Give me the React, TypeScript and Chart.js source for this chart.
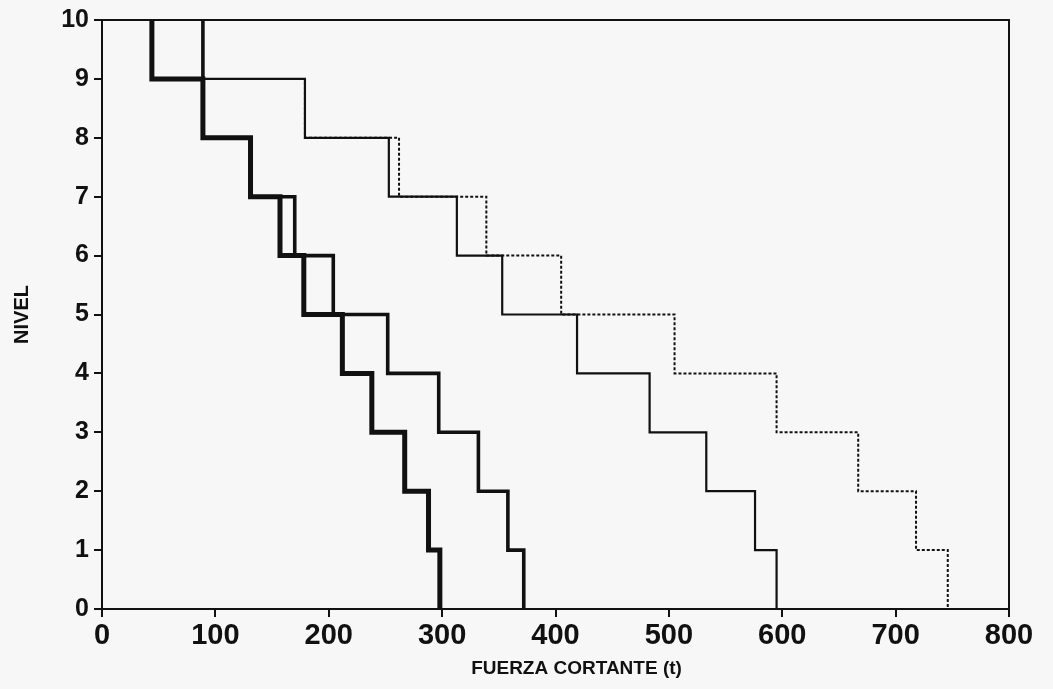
import React, { useEffect, useRef } from "react";
import { Chart, registerables } from "chart.js";

Chart.register(...registerables);

// Story levels (story i spans level i-1 to level i)
const levels = [1, 2, 3, 4, 5, 6, 7, 8, 9, 10];
const xTicks = [0, 100, 200, 300, 400, 500, 600, 700, 800];
const yTicks = [0, 1, 2, 3, 4, 5, 6, 7, 8, 9, 10];

// Shear force (t) per story, story 1 .. story 10
const seriesA = [298, 288, 267, 238, 212, 178, 157, 131, 89, 44];
const seriesB = [372, 358, 332, 297, 252, 204, 170, 131, 89, 89];
const seriesC = [595, 576, 533, 483, 419, 353, 313, 253, 179, 44];
const seriesD = [746, 718, 667, 595, 505, 405, 339, 262, 179, 44];

const xTitle = "FUERZA CORTANTE (t)";
const yTitle = "NIVEL";

function stepPoints(values: number[]) {
  const pts: { x: number; y: number }[] = [];
  for (let k = levels.length - 1; k >= 0; k--) {
    const lvl = levels[k];
    pts.push({ x: values[k], y: lvl });
    pts.push({ x: values[k], y: lvl - 1 });
  }
  return pts;
}

const INK = "#111111";
const FONT = "'Liberation Sans', Arial, sans-serif";

export default function App() {
  const ref = useRef<HTMLCanvasElement | null>(null);

  useEffect(() => {
    if (!ref.current) return;

    const bgPlugin = {
      id: "bg",
      beforeDraw(chart: any) {
        const { ctx, width, height } = chart;
        ctx.save();
        ctx.fillStyle = "#f7f7f7";
        ctx.fillRect(0, 0, width, height);
        ctx.restore();
      },
    };

    const framePlugin = {
      id: "frame",
      afterDraw(chart: any) {
        const { ctx, chartArea } = chart;
        const { left, right, top, bottom } = chartArea;
        ctx.save();
        ctx.strokeStyle = INK;
        ctx.lineWidth = 2;
        ctx.strokeRect(left, top, right - left, bottom - top);
        // x title
        ctx.fillStyle = INK;
        ctx.font = `bold 19px ${FONT}`;
        ctx.textAlign = "center";
        ctx.textBaseline = "middle";
        ctx.fillText(xTitle, (left + right) / 2 + 21, 669);
        ctx.restore();
      },
    };

    const mk = (label: string, vals: number[], width: number, dash: number[]) => ({
      label,
      data: stepPoints(vals),
      showLine: true,
      borderColor: INK,
      backgroundColor: INK,
      borderWidth: width,
      borderDash: dash,
      pointRadius: 0,
      pointHoverRadius: 0,
      borderJoinStyle: "miter" as const,
      borderCapStyle: "butt" as const,
      tension: 0,
      fill: false,
      clip: false as any,
    });

    const chart = new Chart(ref.current, {
      type: "scatter",
      data: {
        datasets: [
          mk("D", seriesD, 2, [3, 2]),
          mk("C", seriesC, 2.2, []),
          mk("B", seriesB, 3.6, []),
          mk("A", seriesA, 5, []),
        ],
      },
      plugins: [bgPlugin, framePlugin],
      options: {
        responsive: false,
        animation: false,
        events: [],
        layout: { padding: { left: 0, top: 17, right: 44, bottom: 0 } },
        plugins: {
          legend: { display: false },
          tooltip: { enabled: false },
          title: { display: false },
        },
        scales: {
          x: {
            type: "linear",
            min: xTicks[0],
            max: xTicks[xTicks.length - 1],
            afterBuildTicks: (scale: any) => {
              scale.ticks = xTicks.map((v) => ({ value: v }));
            },
            afterFit: (scale: any) => {
              scale.height = 80;
            },
            ticks: {
              color: INK,
              font: { family: FONT, size: 29, weight: "bold" },
              padding: 2,
              maxRotation: 0,
            },
            grid: {
              drawOnChartArea: false,
              drawTicks: true,
              tickLength: 8,
              color: INK,
              lineWidth: 2,
            },
            border: { display: true, color: INK, width: 2 },
          },
          y: {
            type: "linear",
            min: yTicks[0],
            max: yTicks[yTicks.length - 1],
            afterBuildTicks: (scale: any) => {
              scale.ticks = yTicks.map((v) => ({ value: v }));
            },
            afterFit: (scale: any) => {
              scale.width = 102;
            },
            ticks: {
              color: INK,
              font: { family: FONT, size: 25, weight: "bold" },
              padding: 5,
            },
            grid: {
              drawOnChartArea: false,
              drawTicks: true,
              tickLength: 8,
              color: INK,
              lineWidth: 2,
            },
            border: { display: true, color: INK, width: 2 },
            title: {
              display: true,
              text: yTitle,
              color: INK,
              font: { family: FONT, size: 20, weight: "bold" },
              padding: { top: 10, bottom: 0 },
            },
          },
        },
      },
    });

    return () => chart.destroy();
  }, []);

  return (
    <div style={{ position: "fixed", left: 0, top: 0, width: 1053, height: 689, background: "#f7f7f7" }}>
      <canvas ref={ref} width={1053} height={689} style={{ display: "block" }} />
    </div>
  );
}
